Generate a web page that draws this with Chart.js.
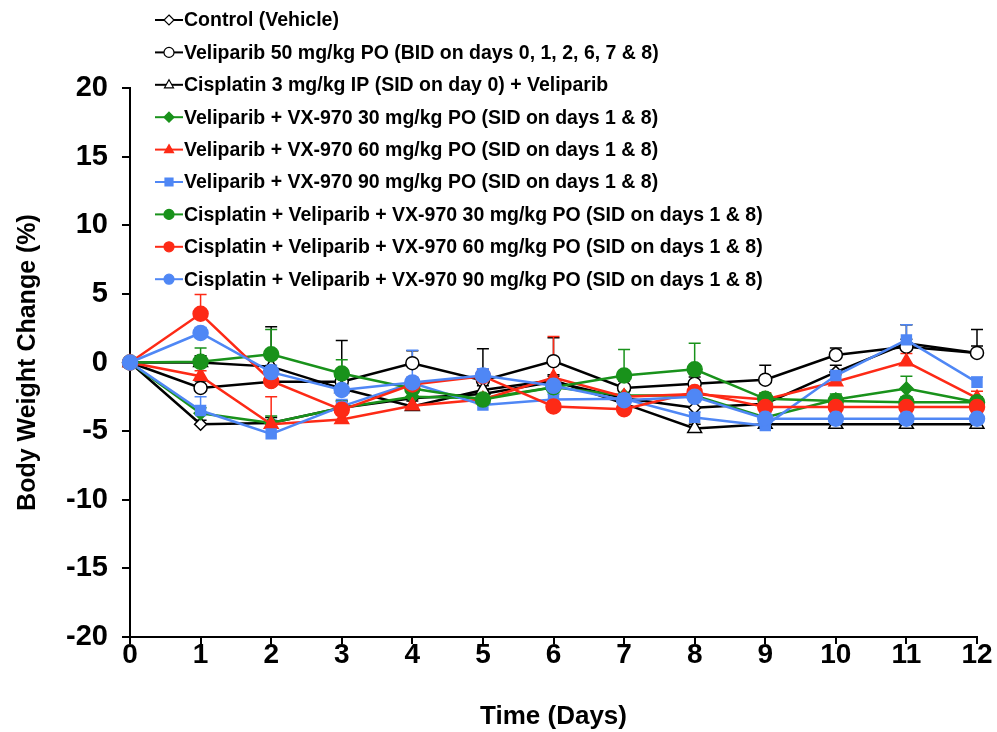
<!DOCTYPE html>
<html lang="en">
<head>
  <meta charset="UTF-8" />
  <title>Body Weight Change</title>
  <script src="https://cdn.jsdelivr.net/npm/chart.js"></script>
  <style>
    body { margin: 0; background: #fff; }
    .wrap { position: relative; width: 997px; height: 732px; }
  </style>
</head>
<body>

  <div class="wrap"><canvas id="grafico"></canvas></div>

  <script>
    // data
    const days = [0, 1, 2, 3, 4, 5, 6, 7, 8, 9, 10, 11, 12];
    const yTicks = [-20, -15, -10, -5, 0, 5, 10, 15, 20];

    const seriesNames = [
      'Control (Vehicle)',
      'Veliparib 50 mg/kg PO (BID on days 0, 1, 2, 6, 7 & 8)',
      'Cisplatin 3 mg/kg IP (SID on day 0) + Veliparib',
      'Veliparib + VX-970 30 mg/kg PO (SID on days 1 & 8)',
      'Veliparib + VX-970 60 mg/kg PO (SID on days 1 & 8)',
      'Veliparib + VX-970 90 mg/kg PO (SID on days 1 & 8)',
      'Cisplatin + Veliparib + VX-970 30 mg/kg PO (SID on days 1 & 8)',
      'Cisplatin + Veliparib + VX-970 60 mg/kg PO (SID on days 1 & 8)',
      'Cisplatin + Veliparib + VX-970 90 mg/kg PO (SID on days 1 & 8)'
    ];

    const control      = [0, -4.5, -4.4, -3.3, -2.6, -2.3, -1.4, -2.6, -3.3, -3.0, -0.7, 1.4, 0.7];
    const veliparib    = [0, -1.85, -1.4, -1.4, -0.05, -1.3, 0.1, -1.85, -1.55, -1.25, 0.55, 1.15, 0.7];
    const cisVel       = [0, 0, -0.3, -1.9, -3.2, -2.0, -1.3, -3.0, -4.8, -4.5, -4.5, -4.5, -4.5];
    const velVx30      = [0, -3.7, -4.4, -3.3, -2.5, -2.6, -1.8, -2.4, -2.4, -4.0, -2.7, -1.9, -2.9];
    const velVx60      = [0, -1.0, -4.5, -4.15, -3.15, -2.7, -1.1, -2.5, -2.3, -2.7, -1.4, 0.05, -2.6];
    const velVx90      = [0, -3.5, -5.2, -3.2, -1.5, -3.1, -2.7, -2.65, -4.0, -4.6, -0.95, 1.65, -1.45];
    const cisVelVx30   = [0, 0.05, 0.6, -0.8, -1.9, -2.7, -1.8, -0.95, -0.5, -2.65, -2.8, -2.9, -2.9];
    const cisVelVx60   = [0, 3.55, -1.35, -3.45, -1.6, -1.0, -3.2, -3.4, -2.15, -3.25, -3.25, -3.25, -3.25];
    const cisVelVx90   = [0, 2.15, -0.7, -2.0, -1.45, -0.95, -1.7, -2.75, -2.5, -4.1, -4.1, -4.1, -4.1];

    // upper error bars (SEM)
    const controlErr    = [0, 0.3, 0.4, 0.5, 0.5, 3.3, 0.5, 0.5, 0.5, 0.5, 0.5, 0.3, 0.5];
    const veliparibErr  = [0, 0.5, 0.5, 0.5, 0.9, 0.5, 1.7, 0.5, 0.5, 1.05, 0.5, 1.6, 1.7];
    const cisVelErr     = [0, 0.5, 2.9, 3.5, 0.4, 0.3, 0.3, 0.3, 0.3, 0.3, 0.3, 0.3, 0.3];
    const velVx30Err    = [0, 0.4, 0.5, 0.5, 0.5, 0.5, 0.4, 0.4, 0.4, 0.4, 0.4, 0.9, 0.4];
    const velVx60Err    = [0, 0.4, 2.0, 0.5, 0.5, 0.5, 3.0, 0.5, 0.5, 0.5, 0.5, 0.6, 0.5];
    const velVx90Err    = [0, 1.0, 1.0, 0.5, 0.4, 0.4, 0.4, 0.4, 0.4, 0.4, 0.4, 1.1, 0.4];
    const cisVelVx30Err = [0, 1.0, 1.8, 1.0, 0.5, 0.4, 0.4, 1.9, 1.9, 0.4, 0.4, 0.4, 0.4];
    const cisVelVx60Err = [0, 1.4, 0.5, 0.5, 0.5, 0.5, 0.5, 0.5, 0.5, 0.5, 0.5, 0.5, 0.5];
    const cisVelVx90Err = [0, 0.4, 0.5, 0.5, 2.35, 0.5, 0.5, 0.5, 0.5, 0.5, 0.5, 1.2, 0.4];

    const valores = [control, veliparib, cisVel, velVx30, velVx60, velVx90, cisVelVx30, cisVelVx60, cisVelVx90];
    const erros = [controlErr, veliparibErr, cisVelErr, velVx30Err, velVx60Err, velVx90Err, cisVelVx30Err, cisVelVx60Err, cisVelVx90Err];

    const VERDE = '#19921b';
    const VERMELHO = '#fd2a16';
    const AZUL = '#4f87f5';

    // style per series: line colour, point style, fill, radius
    const estilos = [
      { cor: '#000', ponto: 'rectRot', fundo: '#fff', raio: 6 },
      { cor: '#000', ponto: 'circle', fundo: '#fff', raio: 6.5 },
      { cor: '#000', ponto: 'triangle', fundo: '#fff', raio: 8 },
      { cor: VERDE, ponto: 'rectRot', fundo: VERDE, raio: 6.5 },
      { cor: VERMELHO, ponto: 'triangle', fundo: VERMELHO, raio: 8 },
      { cor: AZUL, ponto: 'rect', fundo: AZUL, raio: 7 },
      { cor: VERDE, ponto: 'circle', fundo: VERDE, raio: 7.5 },
      { cor: VERMELHO, ponto: 'circle', fundo: VERMELHO, raio: 7.5 },
      { cor: AZUL, ponto: 'circle', fundo: AZUL, raio: 7.5 }
    ];

    const FONTE = '"Liberation Sans", Arial, Helvetica, sans-serif';

    const datasets = seriesNames.map((nome, i) => {
      const e = estilos[i];
      return {
        label: nome,
        data: valores[i],
        err: erros[i],
        borderColor: e.cor,
        borderWidth: 2.5,
        pointStyle: e.ponto,
        pointRadius: e.raio,
        pointBackgroundColor: e.fundo,
        pointBorderColor: e.cor,
        pointBorderWidth: 1.5,
        tension: 0,
        fill: false,
        order: seriesNames.length - i
      };
    });

    function desenharMarcador(ctx, estilo, x, y, r) {
      ctx.beginPath();
      if (estilo === 'circle') {
        ctx.arc(x, y, r, 0, Math.PI * 2);
      } else if (estilo === 'rect') {
        ctx.rect(x - r * 0.8, y - r * 0.8, r * 1.6, r * 1.6);
      } else if (estilo === 'rectRot') {
        ctx.moveTo(x, y - r); ctx.lineTo(x + r, y); ctx.lineTo(x, y + r); ctx.lineTo(x - r, y);
        ctx.closePath();
      } else if (estilo === 'triangle') {
        ctx.moveTo(x, y - r); ctx.lineTo(x + r * 0.9, y + r * 0.6); ctx.lineTo(x - r * 0.9, y + r * 0.6);
        ctx.closePath();
      }
      ctx.fill();
      ctx.stroke();
    }

    const barrasErro = {
      id: 'barrasErro',
      beforeDatasetsDraw(chart) {
        const ctx = chart.ctx;
        const sx = chart.scales.x, sy = chart.scales.y;
        chart.data.datasets.forEach(ds => {
          ctx.save();
          ctx.strokeStyle = ds.borderColor;
          ctx.lineWidth = 1.5;
          ds.data.forEach((v, j) => {
            const e = ds.err[j];
            if (!e) return;
            const px = sx.getPixelForValue(j);
            const y0 = sy.getPixelForValue(v);
            const y1 = sy.getPixelForValue(v + e);
            ctx.beginPath();
            ctx.moveTo(px, y0); ctx.lineTo(px, y1);
            ctx.moveTo(px - 6, y1); ctx.lineTo(px + 6, y1);
            ctx.stroke();
          });
          ctx.restore();
        });
      }
    };

    const legenda = {
      id: 'legenda',
      afterDraw(chart) {
        const ctx = chart.ctx;
        chart.data.datasets.forEach((ds, i) => {
          const y = 20 + i * 32.4;
          ctx.save();
          ctx.strokeStyle = ds.borderColor;
          ctx.lineWidth = 2;
          ctx.beginPath();
          ctx.moveTo(155, y); ctx.lineTo(183, y);
          ctx.stroke();
          ctx.fillStyle = ds.pointBackgroundColor;
          ctx.lineWidth = 1.2;
          desenharMarcador(ctx, ds.pointStyle, 169, y, 5);
          ctx.fillStyle = '#000';
          ctx.font = 'bold 19.5px ' + FONTE;
          ctx.textBaseline = 'middle';
          ctx.fillText(ds.label, 184, y + 1);
          ctx.restore();
        });
      }
    };

    const ctx = document.getElementById('grafico');
    new Chart(ctx, {
      type: 'line',
      data: { labels: days, datasets: datasets },
      plugins: [barrasErro, legenda],
      options: {
        responsive: true,
        maintainAspectRatio: false,
        animation: false,
        layout: { padding: { top: 88, right: 20, left: 0, bottom: 0 } },
        plugins: {
          legend: { display: false },
          tooltip: { enabled: false }
        },
        scales: {
          x: {
            type: 'category',
            offset: false,
            afterFit: s => { s.height = 95; },
            grid: { drawOnChartArea: false, offset: false, color: '#000', tickLength: 7, lineWidth: 2 },
            border: { color: '#000', width: 2 },
            ticks: { color: '#000', padding: -3, font: { family: FONTE, size: 28, weight: 'bold', lineHeight: 1 } },
            title: { display: true, text: 'Time (Days)', color: '#000', padding: { top: 0, bottom: 0 }, font: { family: FONTE, size: 26, weight: 'bold' } }
          },
          y: {
            min: -20,
            max: 20,
            afterFit: s => { s.width = 130; },
            afterBuildTicks: s => { s.ticks = yTicks.map(v => ({ value: v })); },
            grid: { drawOnChartArea: false, color: '#000', tickLength: 8, lineWidth: 2 },
            border: { color: '#000', width: 2 },
            ticks: { color: '#000', padding: 14, font: { family: FONTE, size: 29, weight: 'bold' } },
            title: { display: true, text: 'Body Weight Change (%)', color: '#000', padding: { top: 13, bottom: 0 }, font: { family: FONTE, size: 25, weight: 'bold' } }
          }
        }
      }
    });
  </script>

</body>
</html>
